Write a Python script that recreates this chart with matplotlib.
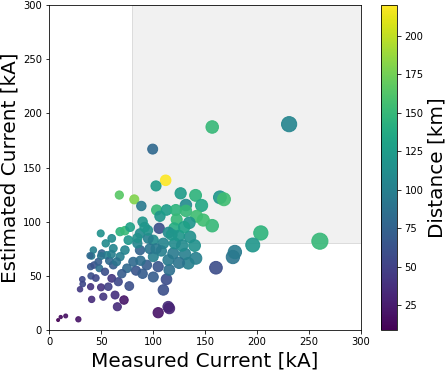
import numpy as np
import matplotlib.pyplot as plt
from matplotlib.patches import Rectangle

# measured current [kA], estimated current [kA], distance [km]
measured = [8.7, 11.2, 16, 28.2, 29.8, 32.4, 32, 40.4, 40, 40, 41, 50, 52.2, 43.3, 48.4,
            63.5, 72.1, 65.7, 60.3, 66.6, 77.2, 83.7, 105, 110, 114.7, 100.3, 53.8, 160.6,
            113, 115.7, 134, 141.3, 130.8, 119.5, 121, 135.6, 231, 260.6, 203.8, 196,
            176.9, 178.8, 164.4, 168.3, 157, 99.7, 112.2, 102.9, 67.6, 82, 88.8, 126.6,
            141, 146.8, 131.7, 157, 106, 103.5, 106.7, 113, 122, 131.7, 142, 148.4, 122.8,
            135, 120.5, 49.7, 54.5, 42.6, 41, 50.7, 47.4, 60.3, 68.3, 73, 76.3, 87.5,
            100.3, 110, 87.5, 95.5, 73, 61.8, 55.5, 68.3, 81, 100.3, 114.7, 94, 61.8, 105,
            39.4, 50, 115.7, 95, 85, 78, 90, 115, 125, 130, 97, 108, 125, 88, 75, 58, 70,
            90, 57, 45, 60, 65, 85, 92, 118, 128, 140, 103]
estimated = [9.2, 12, 13, 9.9, 37.6, 42.5, 46.8, 49.9, 58.5, 40, 28.3, 39.4, 30.8, 60, 57,
             32.3, 27.7, 21.5, 47.7, 44.6, 40.6, 54.8, 16, 37, 21.5, 49, 53.8, 57.5,
             46.8, 55.4, 61.6, 66.2, 70.2, 70.8, 80, 86, 190, 82, 89.6, 78.5,
             67.4, 72, 122.5, 120.7, 187.4, 167, 138.2, 133, 124.6, 120.6, 114.5, 126.2,
             124.3, 115, 115.4, 96.3, 93.9, 110.8, 105, 110.8, 110.8, 110, 105, 101.5, 102,
             99, 93.9, 89.2, 80, 73.8, 68.3, 70.8, 63, 84.6, 90.8, 91.7, 83, 89.2,
             83, 80, 73.8, 84.6, 73.8, 75.4, 69, 67.7, 63, 67.7, 64.6, 60, 60, 58.5,
             68.6, 68.3, 20, 92, 80, 95, 100, 90, 87, 95, 75, 73, 62, 64, 57, 64, 52,
             52, 40, 48, 70, 63, 85, 95, 88, 78, 78, 75]
distance = [9, 15, 18, 20, 45, 55, 55, 60, 65, 40, 35, 40, 42, 62, 85,
            38, 22, 35, 42, 55, 60, 65, 20, 60, 35, 70, 60, 58,
            58, 85, 100, 100, 100, 95, 110, 115, 105, 150, 145, 120,
            90, 95, 120, 155, 150, 80, 220, 125, 165, 180, 95, 125,
            145, 135, 110, 150, 60, 150, 120, 125, 145, 150, 155, 155, 150,
            120, 140, 115, 110, 100, 95, 75, 70, 110, 145, 150, 120, 110,
            110, 105, 75, 100, 105, 105, 100, 100, 80, 100, 95, 70, 70, 65,
            80, 90, 30, 115, 105, 130, 120, 110, 120, 130, 90, 100, 90, 85, 80, 80, 70,
            70, 50, 55, 100, 90, 115, 120, 120, 110, 115, 95]

fig = plt.figure(figsize=(446 / 72, 370 / 72), dpi=72)
ax = fig.add_axes([0.110, 0.108, 0.699, 0.8785])
cax = fig.add_axes([0.854, 0.108, 0.037, 0.8785])

ax.add_patch(Rectangle((80, 80), 220, 220, facecolor='#f1f1f1', edgecolor='#dcdcdc',
                       lw=1, zorder=0))

sc = ax.scatter(measured, estimated, c=distance, s=measured, cmap='viridis', alpha=0.9,
                zorder=2)

ax.set_xlim(0, 300)
ax.set_ylim(0, 300)
ax.set_xlabel('Measured Current [kA]', fontsize=20)
ax.set_ylabel('Estimated Current [kA]', fontsize=20)

cb = fig.colorbar(sc, cax=cax)
cb.solids.set_alpha(1)
cb.set_label('Distance [km]', fontsize=20)

plt.savefig('out.png', dpi=72)
